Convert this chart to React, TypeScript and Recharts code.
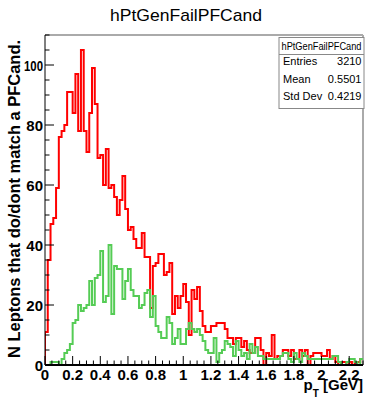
import React from "react";
import { LineChart, Line, XAxis, YAxis, ReferenceLine } from "recharts";

// ---- data (bin contents, bin width 0.02 GeV, 115 bins from 0 to 2.3) ----
const BIN_WIDTH = 0.02;
const X_MAX = 2.3;
const Y_MAX = 110;

const redCounts = [
  11, 35, 47, 49, 59, 76, 78, 80, 91, 91,
  84, 97, 78, 105, 78, 71, 84, 99, 87, 69,
  70, 60, 72, 59, 60, 56, 50, 55, 63, 52,
  45, 46, 42, 39, 39, 44, 36, 36, 19, 33,
  34, 37, 37, 30, 31, 34, 17, 23, 19, 23,
  27, 21, 10, 25, 22, 26, 18, 13, 11, 11,
  13, 13, 14, 14, 14, 12, 9, 9, 7, 9,
  9, 6, 8, 5, 4, 4, 9, 9, 5, 0,
  4, 3, 10, 2, 3, 3, 5, 5, 3, 5,
  2, 2, 5, 3, 5, 0, 3, 4, 4, 4,
  3, 3, 5, 2, 3, 1, 0, 1, 1, 0,
  1, 0, 1, 1, 2,
];

const greenCounts = [
  0, 0, 1, 1, 1, 0, 2, 4, 5, 7,
  14, 15, 20, 18, 19, 20, 28, 20, 29, 30,
  38, 21, 23, 40, 17, 33, 32, 32, 22, 28,
  32, 25, 23, 23, 19, 20, 24, 25, 16, 23,
  13, 11, 9, 9, 16, 14, 7, 9, 12, 7,
  7, 12, 14, 12, 11, 12, 10, 8, 5, 4,
  4, 9, 1, 4, 5, 8, 7, 6, 3, 8,
  5, 3, 4, 2, 7, 4, 6, 3, 3, 2,
  2, 2, 2, 2, 2, 3, 4, 4, 2, 1,
  4, 2, 1, 4, 3, 2, 2, 2, 2, 2,
  2, 2, 2, 2, 3, 3, 1, 0, 0, 1,
  2, 2, 1, 0, 2,
];

const xTickValues = [0, 0.2, 0.4, 0.6, 0.8, 1, 1.2, 1.4, 1.6, 1.8, 2, 2.2];
const xTickLabels = ["0", "0.2", "0.4", "0.6", "0.8", "1", "1.2", "1.4", "1.6", "1.8", "2", "2.2"];
const yTickValues = [0, 20, 40, 60, 80, 100];
const yTickLabels = ["0", "20", "40", "60", "80", "100"];
const X_MINOR_STEP = 0.05;
const Y_MINOR_STEP = 5;

const title = "hPtGenFailPFCand";
const yTitle = "N Leptons that do/dont match a PFCand.";
const statRows = [
  ["Entries", "3210"],
  ["Mean", "0.5501"],
  ["Std Dev", "0.4219"],
];

// ---- build chart table (bin lower edges + final edge) ----
const data: { x: number; red: number; green: number }[] = [{ x: 0, red: 0, green: 0 }];
redCounts.forEach((r, i) => {
  data.push({ x: +(i * BIN_WIDTH).toFixed(4), red: r, green: greenCounts[i] });
});
data.push({ x: X_MAX, red: redCounts[redCounts.length - 1], green: greenCounts[greenCounts.length - 1] });

const xMinorTicks: number[] = [];
for (let i = 0; i * X_MINOR_STEP <= X_MAX + 1e-9; i++) xMinorTicks.push(+(i * X_MINOR_STEP).toFixed(4));
const yMinorTicks: number[] = [];
for (let v = 0; v <= Y_MAX; v += Y_MINOR_STEP) yMinorTicks.push(v);

const FONT = "'Liberation Sans', Arial, Helvetica, sans-serif";

const findLabel = (vals: number[], labels: string[], v: number) => {
  const idx = vals.findIndex((t) => Math.abs(t - v) < 1e-6);
  return idx >= 0 ? labels[idx] : null;
};

const XTick = (props: any) => {
  const { x, y, payload } = props;
  const label = findLabel(xTickValues, xTickLabels, payload.value);
  const len = label !== null ? 9 : 4.5;
  return (
    <g>
      <line x1={x} x2={x} y1={y} y2={y - len} stroke="#000" strokeWidth={1} />
      {label !== null && (
        <text x={x} y={y + 14.5} textAnchor="middle" fontFamily={FONT} fontWeight="bold" fontSize={15} fill="#000">
          {label}
        </text>
      )}
    </g>
  );
};

const YTick = (props: any) => {
  const { x, y, payload } = props;
  const label = findLabel(yTickValues, yTickLabels, payload.value);
  const len = label !== null ? 9 : 4.5;
  return (
    <g>
      <line x1={x} x2={x + len} y1={y} y2={y} stroke="#000" strokeWidth={1} />
      {label !== null && (
        <text
          x={x - 2}
          y={y + 5.5}
          textAnchor="end"
          fontFamily={FONT}
          fontWeight="bold"
          fontSize={15}
          fill="#000"
          textLength={label.length > 2 ? 19 : undefined}
          lengthAdjust="spacingAndGlyphs"
        >
          {label}
        </text>
      )}
    </g>
  );
};

export default function App() {
  return (
    <div style={{ position: "absolute", left: 0, top: 0, width: 367, height: 400, background: "#fff" }}>
      <LineChart width={367} height={400} data={data} margin={{ top: 35, right: 4, bottom: 0, left: 0 }}>
        <XAxis
          type="number"
          dataKey="x"
          domain={[0, X_MAX]}
          allowDataOverflow
          ticks={xMinorTicks}
          interval={0}
          tick={<XTick />}
          tickLine={false}
          tickSize={0}
          tickMargin={0}
          height={35}
          axisLine={{ stroke: "#000", strokeWidth: 2 }}
        />
        <YAxis
          type="number"
          domain={[0, Y_MAX]}
          allowDataOverflow
          ticks={yMinorTicks}
          interval={0}
          tick={<YTick />}
          tickLine={false}
          tickSize={0}
          tickMargin={0}
          width={45}
          axisLine={{ stroke: "#000", strokeWidth: 1 }}
        />
        <ReferenceLine y={Y_MAX} stroke="#aaaaaa" strokeWidth={2} />
        <ReferenceLine x={X_MAX} stroke="#aaaaaa" strokeWidth={2} />
        <Line type="stepAfter" dataKey="red" stroke="#ff0000" strokeWidth={2} dot={false} isAnimationActive={false} />
        <Line type="stepAfter" dataKey="green" stroke="#55cc55" strokeWidth={2} dot={false} isAnimationActive={false} />
      </LineChart>
      <svg width={367} height={400} style={{ position: "absolute", left: 0, top: 0, pointerEvents: "none" }}>
        <text x={186} y={21} textAnchor="middle" fontFamily={FONT} fontSize={17} textLength={152} lengthAdjust="spacingAndGlyphs" fill="#000">
          {title}
        </text>
        <text
          transform="translate(19.5,199) rotate(-90)"
          textAnchor="middle"
          fontFamily={FONT}
          fontWeight="bold"
          fontSize={16.5}
          textLength={318}
          lengthAdjust="spacingAndGlyphs"
          fill="#000"
        >
          {yTitle}
        </text>
        <text x={363} y={390} textAnchor="end" fontFamily={FONT} fontWeight="bold" fontSize={15} fill="#000">
          p<tspan fontSize={10} dy={7}>T</tspan>
          <tspan dy={-7}> [GeV]</tspan>
        </text>
        <rect x={279} y={37.5} width={85} height={71} fill="#fff" stroke="#888" strokeWidth={1} />
        <line x1={279} x2={364} y1={54.5} y2={54.5} stroke="#888" strokeWidth={1} />
        <text x={321.5} y={49.5} textAnchor="middle" fontFamily={FONT} fontSize={10} textLength={80} lengthAdjust="spacingAndGlyphs" fill="#000">
          {title}
        </text>
        {statRows.map((row, i) => (
          <g key={row[0]}>
            <text x={283} y={65 + i * 17.5} fontFamily={FONT} fontSize={11} fill="#000">
              {row[0]}
            </text>
            <text x={361.5} y={65 + i * 17.5} textAnchor="end" fontFamily={FONT} fontSize={11} fill="#000">
              {row[1]}
            </text>
          </g>
        ))}
      </svg>
    </div>
  );
}
